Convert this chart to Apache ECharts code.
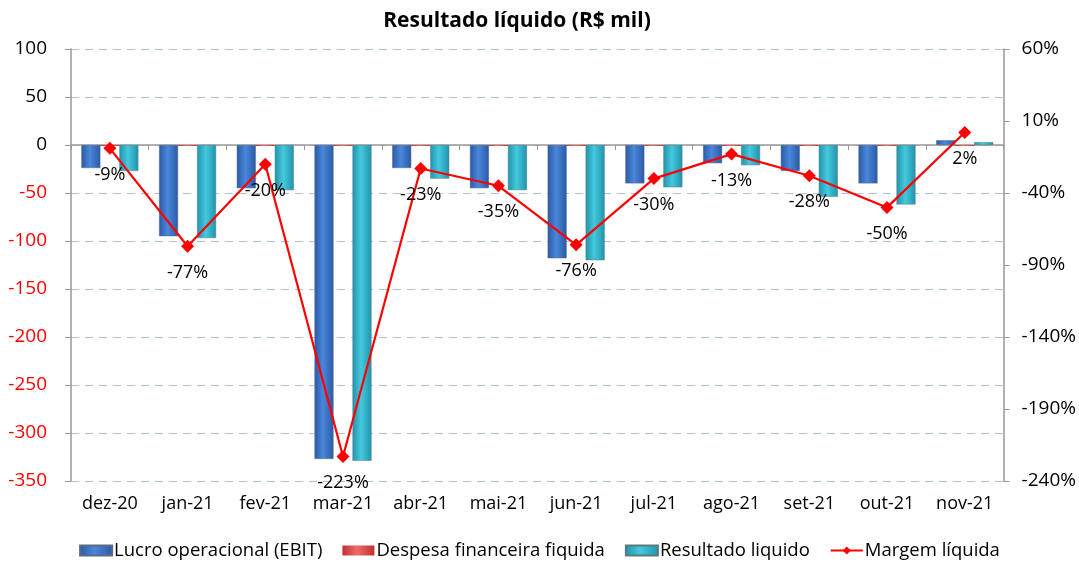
<!DOCTYPE html>
<html>
<head>
<meta charset="utf-8">
<script src="https://cdn.jsdelivr.net/npm/echarts@6/dist/echarts.min.js"></script>
<style>
  html, body { margin: 0; padding: 0; background: #fff; }
  #chart { width: 1079px; height: 565px; }
</style>
</head>
<body>
<div id="chart"></div>
<script>
const categories = ["dez-20", "jan-21", "fev-21", "mar-21", "abr-21", "mai-21", "jun-21", "jul-21", "ago-21", "set-21", "out-21", "nov-21"];
const ebit = [-24, -95, -45, -327, -24, -45, -118, -40, -19, -27, -40, 5];
const despesa = [-1, -1, -1, -1, -1, -1, -1, -1, -1, -1, -1, -1];
const resultado = [-27, -97, -47, -329, -35, -47, -120, -44, -21, -54, -62, 3];
const margem = [-9, -77, -20, -223, -23, -35, -76, -30, -13, -28, -50, 2];

const FONT = "Open Sans";

function barGrad(dark, light) {
  return new echarts.graphic.LinearGradient(0, 0, 1, 0, [
    { offset: 0, color: dark },
    { offset: 0.45, color: light },
    { offset: 1, color: dark },
  ]);
}

const chart = echarts.init(document.getElementById("chart"));
const option = {
  animation: false,
  textStyle: { fontFamily: FONT },
  title: {
    text: "Resultado líquido (R$ mil)",
    left: 512,
    textAlign: "center",
    top: 6,
    textStyle: { fontFamily: FONT, fontSize: 21, fontWeight: "bold", color: "#000" },
  },
  grid: { left: 71, right: 75, top: 49, bottom: 84 },
  legend: {
    bottom: 0,
    left: "center",
    itemWidth: 32,
    itemHeight: 10,
    itemGap: 20,
    textStyle: { fontFamily: FONT, fontSize: 18.5, color: "#000", padding: [0, 0, 0, -3] },
    data: [
      { name: "Lucro operacional (EBIT)", icon: "rect" },
      { name: "Despesa financeira fiquida", icon: "rect" },
      { name: "Resultado liquido", icon: "rect" },
      { name: "Margem líquida" },
    ],
  },
  xAxis: [
    {
      type: "category",
      data: categories,
      position: "bottom",
      axisLine: { show: false, onZero: false },
      axisTick: { show: false },
      axisLabel: { fontFamily: FONT, fontSize: 18, color: "#000", margin: 14, interval: 0 },
    },
    {
      type: "category",
      data: categories,
      position: "bottom",
      axisLine: { show: true, onZero: true, onZeroAxisIndex: 0, lineStyle: { color: "#999", width: 1.5 } },
      axisTick: { show: true, length: 5, inside: false, lineStyle: { color: "#999" } },
      axisLabel: { show: false },
    },
  ],
  yAxis: [
    {
      type: "value",
      min: -350,
      max: 100,
      interval: 50,
      axisLine: { show: true, lineStyle: { color: "#999", width: 1.5 } },
      axisTick: { show: true, length: 6, lineStyle: { color: "#999" } },
      axisLabel: {
        fontFamily: FONT,
        fontSize: 19,
        margin: 24,
        color: function (v) { return v < 0 ? "#ff0000" : "#000"; },
      },
      splitLine: { show: true, lineStyle: { color: "#adc0e6", type: [8, 6], width: 1.2 } },
    },
    {
      type: "value",
      min: -240,
      max: 60,
      interval: 50,
      position: "right",
      axisLine: { show: true, lineStyle: { color: "#999", width: 1.5 } },
      axisTick: { show: true, length: 6, lineStyle: { color: "#999" } },
      axisLabel: { fontFamily: FONT, fontSize: 19, margin: 18, color: "#000", formatter: "{value}%" },
      splitLine: { show: false },
    },
  ],
  series: [
    {
      name: "Lucro operacional (EBIT)",
      type: "bar",
      data: ebit,
      barWidth: 19,
      barGap: "0%",
      itemStyle: { color: barGrad("#2a5aa6", "#4a87da"), borderColor: "#5a6a80", borderWidth: 0.5 },
    },
    {
      name: "Despesa financeira fiquida",
      type: "bar",
      data: despesa,
      barWidth: 19,
      barGap: "0%",
      itemStyle: { color: barGrad("#c03030", "#f06a6a") },
    },
    {
      name: "Resultado liquido",
      type: "bar",
      data: resultado,
      barWidth: 19,
      barGap: "0%",
      itemStyle: { color: barGrad("#1f93ad", "#45c9dc"), borderColor: "#5a7a80", borderWidth: 0.5 },
    },
    {
      name: "Margem líquida",
      type: "line",
      yAxisIndex: 1,
      data: margem,
      z: 10,
      symbol: "diamond",
      symbolSize: 13,
      lineStyle: { color: "#ff0000", width: 2.2 },
      itemStyle: { color: "#ff0000" },
      label: {
        show: true,
        position: "bottom",
        distance: 11,
        fontFamily: FONT,
        fontSize: 18,
        color: "#000",
        formatter: "{c}%",
      },
    },
  ],
};
chart.setOption(option);
</script>
</body>
</html>
